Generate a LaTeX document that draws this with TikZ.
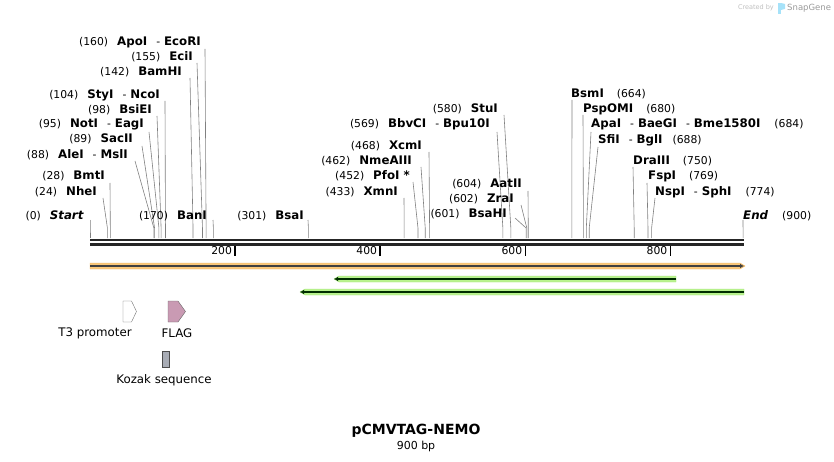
\documentclass[tikz,border=0pt]{standalone}
\usepackage{fontspec}
\setmainfont{DejaVu Sans}
\usetikzlibrary{arrows.meta,positioning}
\definecolor{cutgray}{HTML}{808080}
\definecolor{orfband}{HTML}{F9C77A}
\definecolor{orfedge}{HTML}{F0B45C}
\definecolor{mapband}{HTML}{B9F38E}
\definecolor{mapedge}{HTML}{A2E277}
\definecolor{flagpink}{HTML}{C99AB3}
\definecolor{kozakgray}{HTML}{A8ACB5}
\tikzstyle{cut} = [draw=cutgray, line width=0.6pt]
\tikzstyle{enz} = [font=\fontsize{10.8}{12}\selectfont, inner sep=0pt]
\tikzstyle{backbone} = [draw=black!85, line width=2.6pt]
\tikzstyle{tick} = [draw=black, line width=1.6pt]
\newcommand{\nme}[1]{{\fontsize{11.8}{12}\selectfont\bfseries #1}}
\newcommand{\dsh}{\hspace{9pt}-\hspace{4pt}}
\newcommand{\gap}{\hspace{9pt}}

\begin{document}
\begin{tikzpicture}[x=1pt, y=-1pt]
    \tikzstyle{feat}=[font=\fontsize{11.8}{13}\selectfont, inner sep=0pt]
    \tikzstyle{arrowline}=[draw, line width=1.6pt, -{Latex[length=4pt,width=4.5pt]}]
  \useasboundingbox (0,0) rectangle (834,462);

  % backbone
  \coordinate (bb-a) at (90,240);
  \coordinate (bb-b) at (744,240);
  \path[backbone] (bb-a) -- (bb-b);
  \path[backbone] ([yshift=-4.2pt]bb-a) -- ([yshift=-4.2pt]bb-b);
  \foreach \t in {200,400,600,800} {
      \coordinate (tick\t) at ({90+0.7256*\t},246);
      \path[tick] (tick\t) -- ++(0,10);
      \node[enz, anchor=east] (ticklab\t) at ([xshift=-3pt,yshift=-5pt]tick\t) {\t};
  }

  % enzymes, labels left of their line
  \foreach \nm/\pos/\lx/\ly/\tx/\ty/\txt in {
      start/0/84/219/90/220/{(0)\gap\nme{\textit{Start}}},
      nhe/24/97/196/103/198/{(24)\gap\nme{NheI}},
      bmt/28/105/180/110/183/{(28)\gap\nme{BmtI}},
      ale/88/128/159/135/161/{(88)\gap\nme{AleI}\dsh\nme{MslI}},
      sac/89/133/143/142/146/{(89)\gap\nme{SacII}},
      notI/95/144/128/149/132/{(95)\gap\nme{NotI}\dsh\nme{EagI}},
      bsie/98/152/114/157/116/{(98)\gap\nme{BsiEI}},
      sty/104/160/99/165/101/{(104)\gap\nme{StyI}\dsh\nme{NcoI}},
      bam/142/182/76/190/78/{(142)\gap\nme{BamHI}},
      eci/155/193/61/197/63/{(155)\gap\nme{EciI}},
      apo/160/201/46/205/49/{(160)\gap\nme{ApoI}\dsh\nme{EcoRI}},
      ban/170/207/219/213/220/{(170)\gap\nme{BanI}},
      bsa/301/304/219/308/220/{(301)\gap\nme{BsaI}},
      xmn/433/398/196/404/198/{(433)\gap\nme{XmnI}},
      pfo/452/410/180/413/182/{(452)\gap\nme{PfoI *}},
      nme/462/412/165/421/167/{(462)\gap\nme{NmeAIII}},
      xcm/468/422/150/429/152/{(468)\gap\nme{XcmI}},
      bbv/569/490/128/497/132/{(569)\gap\nme{BbvCI}\dsh\nme{Bpu10I}},
      stu/580/498/113/504/115/{(580)\gap\nme{StuI}},
      aat/604/522/188/528/191/{(604)\gap\nme{AatII}},
      zra/602/514/203/521/205/{(602)\gap\nme{ZraI}},
      bsah/601/507/218/515/218/{(601)\gap\nme{BsaHI}}}
  {
      \node[enz, anchor=base east] (\nm) at (\lx,\ly) {\txt};
      \coordinate (\nm-top) at (\tx,\ty);
      \coordinate (\nm-cut) at ({90+0.7256*\pos},228);
      \coordinate (\nm-site) at ({90+0.7256*\pos},238);
      \path[cut] (\nm-top) -- (\nm-cut) -- (\nm-site);
  }

  % enzymes, labels right of their line
  \foreach \nm/\pos/\lx/\ly/\tx/\ty/\txt in {
      bsm/664/571/98/572/100/{\nme{BsmI}\hspace{13pt}(664)},
      psp/680/583/113/583/115/{\nme{PspOMI}\hspace{13pt}(680)},
      apa/684/591/128/591/132/{\nme{ApaI}\dsh\nme{BaeGI}\dsh\nme{Bme1580I}\hspace{14pt}(684)},
      sfi/688/598/144/598/147/{\nme{SfiI}\dsh\nme{BglI}\hspace{10pt}(688)},
      dra/750/633/165/633/167/{\nme{DraIII}\hspace{13pt}(750)},
      fsp/769/648/180/647/183/{\nme{FspI}\hspace{13pt}(769)},
      nsp/774/655/196/655/198/{\nme{NspI}\dsh\nme{SphI}\hspace{14pt}(774)},
      endp/900/743/219/743/220/{\nme{\textit{End}}\hspace{14pt}(900)}}
  {
      \node[enz, anchor=base west] (\nm) at (\lx,\ly) {\txt};
      \coordinate (\nm-top) at (\tx,\ty);
      \coordinate (\nm-cut) at ({90+0.7256*\pos},228);
      \coordinate (\nm-site) at ({90+0.7256*\pos},238);
      \path[cut] (\nm-top) -- (\nm-cut) -- (\nm-site);
  }

  % orf and map arrows
  \coordinate (orf-a) at (90,266);
  \coordinate (orf-b) at (744,266);
  \fill[orfband, draw=orfedge] (90,263) -- (740,263) -- (745,266) -- (740,269) -- (90,269) -- cycle;
  \path[arrowline, draw=black!75] (orf-a) -- (orf-b);
  \coordinate (m1-a) at (676,279);
  \coordinate (m1-b) at (334,279);
  \fill[mapband, draw=mapedge] (676,276) -- (339,276) -- (334,279) -- (339,282) -- (676,282) -- cycle;
  \path[arrowline, draw=black!70!green!60!black] (m1-a) -- (m1-b);
  \coordinate (m2-a) at (744,292);
  \coordinate (m2-b) at (300,292);
  \fill[mapband, draw=mapedge] (744,289) -- (305,289) -- (300,292) -- (305,295) -- (744,295) -- cycle;
  \path[arrowline, draw=black!70!green!60!black] (m2-a) -- (m2-b);

  % features
  \draw[fill=white, draw=black!55] (123,301) -- (131.5,301) -- (136.5,311.5) -- (131.5,322) -- (123,322) -- cycle;
  \node[feat] (t3) at (95,333) {T3 promoter};
  \draw[fill=flagpink, draw=black!60] (168,301) -- (178,301) -- (185.5,311.5) -- (178,322) -- (168,322) -- cycle;
  \node[feat] (flag) at (177,333) {FLAG};
  \draw[fill=kozakgray, draw=black!70] (162,351) rectangle (169,367);
  \node[feat] (kozak) at (164,380) {Kozak sequence};

  % title
  \node[font=\fontsize{14}{16}\selectfont\bfseries] (title) at (416,431) {pCMVTAG-NEMO};
  \node[font=\fontsize{11}{12}\selectfont] (size) at (416,446) {900 bp};

  % watermark
  \node[font=\fontsize{6.5}{8}\selectfont, text=black!25, anchor=east, inner sep=0pt] (made) at (774,8) {Created by};
  \fill[cyan!35] (778,3) rectangle (781,14);
  \fill[cyan!35] (781,3) -- (785,4) -- (785,9) -- (781,10) -- cycle;
  \node[font=\fontsize{8.5}{10}\selectfont, text=black!40, anchor=west, inner sep=0pt] (snap) at (787,8) {SnapGene};
\end{tikzpicture}
\end{document}
